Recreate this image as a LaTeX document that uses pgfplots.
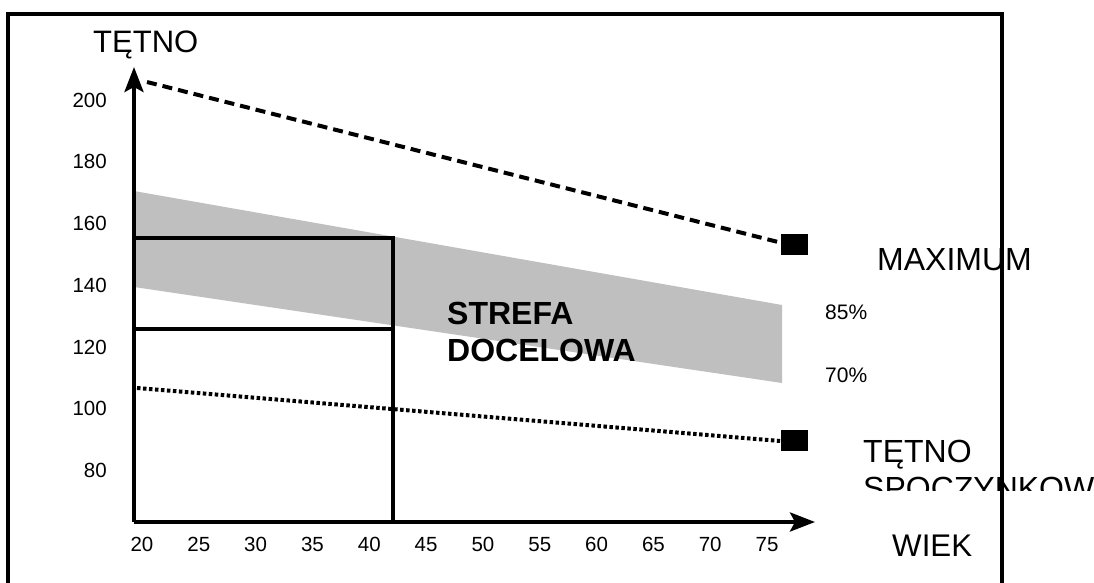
\documentclass[border=0pt]{standalone}
\usepackage{fontspec}
\setmainfont{Liberation Sans}
\usepackage{pgfplots}
\pgfplotsset{compat=1.18}
\usetikzlibrary{arrows.meta}

\begin{document}
\begin{tikzpicture}[x=1pt,y=1pt]
\useasboundingbox (0,0) rectangle (1094,583);
\begin{axis}[
  at={(134pt,61pt)}, anchor=south west,
  scale only axis, width=681pt, height=455pt,
  xmin=19.296, xmax=79.22, ymin=63.16, ymax=210.53,
  axis lines=left, axis on top, clip=false,
  axis line style={line width=4pt, -{Stealth[length=25pt,width=19pt,inset=5pt]}},
  xtick={20,25,...,75}, ytick={80,100,...,200},
  major tick length=0pt,
  tick style={draw=none},
  /pgf/number format/assume math mode=true,
  tick label style={font=\fontsize{20.5}{24}\selectfont, inner sep=0pt},
  xticklabel style={anchor=base, yshift=-30pt},
  yticklabel style={anchor=base east, xshift=-27pt, yshift=-7.5pt},
]
% strefa docelowa (70%-85%)
\addplot[draw=none, fill=black!25] coordinates {
  (19.296,170.36) (76.32,133.44) (76.32,108.18) (19.296,139.27)} -- cycle;
% prostokat
\addplot[black, line width=4pt] coordinates {(19.296,155.14) (42.09,155.14) (42.09,63.16)};
\addplot[black, line width=4pt] coordinates {(19.296,125.67) (42.09,125.67)};
% tetno maksymalne
\addplot[black, line width=4pt, dash pattern=on 10pt off 6pt] coordinates {(20.44,205.67) (75.97,153.85)};
% tetno spoczynkowe
\addplot[black, line width=4pt, dash pattern=on 3.5pt off 2.5pt] coordinates {(19.56,106.56) (76.15,89.4)};
\addplot[only marks, mark=square*, mark size=10pt,
  mark options={xscale=1.3, fill=black, draw=black, line width=0.5pt}]
  coordinates {(77.37,153.2) (77.37,89.72)};
\end{axis}

\node[anchor=base west, inner sep=0pt, font=\fontsize{31}{36}\selectfont] at (93,530) {TĘTNO};
\node[anchor=base west, inner sep=0pt, font=\fontsize{32}{37}\selectfont\bfseries] at (447,258) {STREFA};
\node[anchor=base west, inner sep=0pt, font=\fontsize{32}{37}\selectfont\bfseries] at (447,221) {DOCELOWA};
\node[anchor=base west, inner sep=0pt, font=\fontsize{21}{25}\selectfont] at (825,263) {85\%};
\node[anchor=base west, inner sep=0pt, font=\fontsize{21}{25}\selectfont] at (825,200) {70\%};
\node[anchor=base west, inner sep=0pt, font=\fontsize{32}{37}\selectfont] at (877,312) {MAXIMUM};
\node[anchor=base west, inner sep=0pt, font=\fontsize{32}{37}\selectfont] at (863,120) {TĘTNO};
\begin{scope}
  \clip (850,92) rectangle (1094,140);
  \node[anchor=base west, inner sep=0pt, font=\fontsize{32}{37}\selectfont] at (863,83) {SPOCZYNKOW};
\end{scope}
\node[anchor=base west, inner sep=0pt, font=\fontsize{31.3}{36}\selectfont] at (892,26) {WIEK};

\draw[line width=4pt] (8,-20) -- (8,569) -- (1002,569) -- (1002,-20);
\end{tikzpicture}
\end{document}
